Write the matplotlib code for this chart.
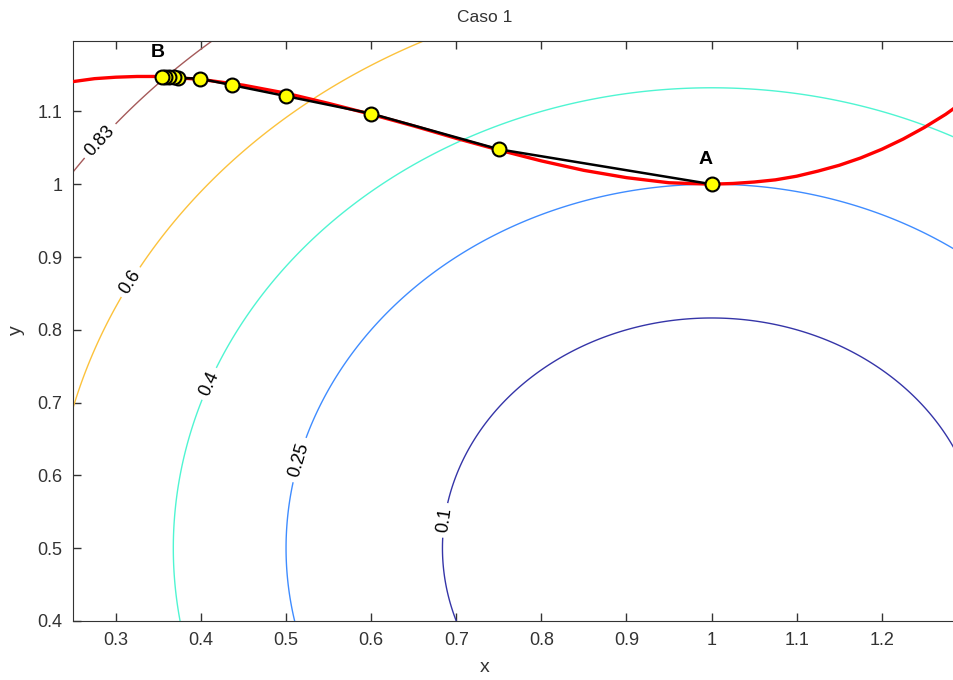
import numpy as np
import matplotlib
matplotlib.use("Agg")
import matplotlib.pyplot as plt

plt.rcParams['font.family'] = ['Liberation Sans', 'DejaVu Sans']

# ---- data ----
# contour field: squared distance to centre
center_x = 1.0
center_y = 0.5
levels = [0.1, 0.25, 0.4, 0.6, 0.83]
level_colors = ['#3535a8', '#3f8cff', '#4ff5d2', '#fcc23c', '#a55a5a']
label_pos = [(0.688, 0.538), (0.516, 0.621), (0.413, 0.724), (0.314, 0.868), (0.281, 1.06)]

# red constraint curve
curve_x = [0.25, 0.275, 0.30, 0.325, 0.35, 0.40, 0.45, 0.50, 0.55, 0.60, 0.65, 0.70, 0.75,
           0.80, 0.85, 0.90, 0.95, 0.975, 1.00, 1.025, 1.05, 1.075, 1.10, 1.125, 1.15,
           1.175, 1.20, 1.225, 1.25, 1.275, 1.30]
curve_y = [1.141, 1.145, 1.147, 1.148, 1.148, 1.144, 1.136, 1.125, 1.111, 1.096, 1.080, 1.063, 1.047,
           1.032, 1.019, 1.009, 1.002, 1.001, 1.000, 1.001, 1.003, 1.006, 1.011, 1.018, 1.026,
           1.036, 1.048, 1.062, 1.078, 1.096, 1.117]

# iterates from A to B
iter_x = [1.0, 0.75, 0.60, 0.50, 0.437, 0.399, 0.373, 0.368, 0.363, 0.358, 0.354]
iter_y = [1.0, 1.048, 1.097, 1.121, 1.136, 1.145, 1.146, 1.147, 1.147, 1.147, 1.147]

x_ticks = [0.3, 0.4, 0.5, 0.6, 0.7, 0.8, 0.9, 1.0, 1.1, 1.2]
x_ticklabels = ['0.3', '0.4', '0.5', '0.6', '0.7', '0.8', '0.9', '1', '1.1', '1.2']
y_ticks = [0.4, 0.5, 0.6, 0.7, 0.8, 0.9, 1.0, 1.1]
y_ticklabels = ['0.4', '0.5', '0.6', '0.7', '0.8', '0.9', '1', '1.1']

xlim = (0.25, 1.2848)
ylim = (0.4, 1.197)

# ---- figure ----
fig = plt.figure(figsize=(9.54, 6.8), dpi=100)
ax = fig.add_axes([0.0768, 0.0868, 1.0 - 0.0768, 0.940 - 0.0868])

gx = np.linspace(0.2, 1.35, 500)
gy = np.linspace(0.35, 1.25, 500)
GX, GY = np.meshgrid(gx, gy)
Z = (GX - center_x) ** 2 + (GY - center_y) ** 2
cs = ax.contour(GX, GY, Z, levels=levels, colors=level_colors, linewidths=1.0)
ax.clabel(cs, levels, fmt={l: f'{l:g}' for l in levels}, manual=label_pos,
          inline=True, inline_spacing=3, fontsize=13, colors='black')

ax.plot(curve_x, curve_y, color='red', lw=2.4, zorder=3)
ax.plot(iter_x, iter_y, color='black', lw=1.8, zorder=4)
ax.plot(iter_x, iter_y, linestyle='none', marker='o', markersize=10,
        markerfacecolor='#ffff00', markeredgecolor='black', markeredgewidth=1.5, zorder=5)

ax.text(iter_x[0] - 0.007, iter_y[0] + 0.022, 'A', fontsize=14, fontweight='bold',
        ha='center', va='bottom')
ax.text(iter_x[-1] - 0.005, iter_y[-1] + 0.022, 'B', fontsize=14, fontweight='bold',
        ha='center', va='bottom')

ax.set_xlim(*xlim)
ax.set_ylim(*ylim)
ax.set_xticks(x_ticks)
ax.set_xticklabels(x_ticklabels)
ax.set_yticks(y_ticks)
ax.set_yticklabels(y_ticklabels)
ax.tick_params(direction='in', length=6, width=1, labelsize=13, colors='#333333',
               top=True, right=False, pad=8)
for s in ['left', 'bottom', 'top']:
    ax.spines[s].set_color('#333333')
ax.spines['right'].set_visible(False)

fig.text(485 / 954, 1 - 668 / 680, 'x', fontsize=14, ha='center', va='center', color='#333333')
fig.text(16 / 954, 1 - 330 / 680, 'y', fontsize=14, ha='center', va='center',
         rotation=90, color='#333333')
fig.text(485 / 954, 1 - 17 / 680, 'Caso 1', fontsize=12.5, ha='center', va='center', color='#333333')

fig.savefig('out.png', dpi=100)
